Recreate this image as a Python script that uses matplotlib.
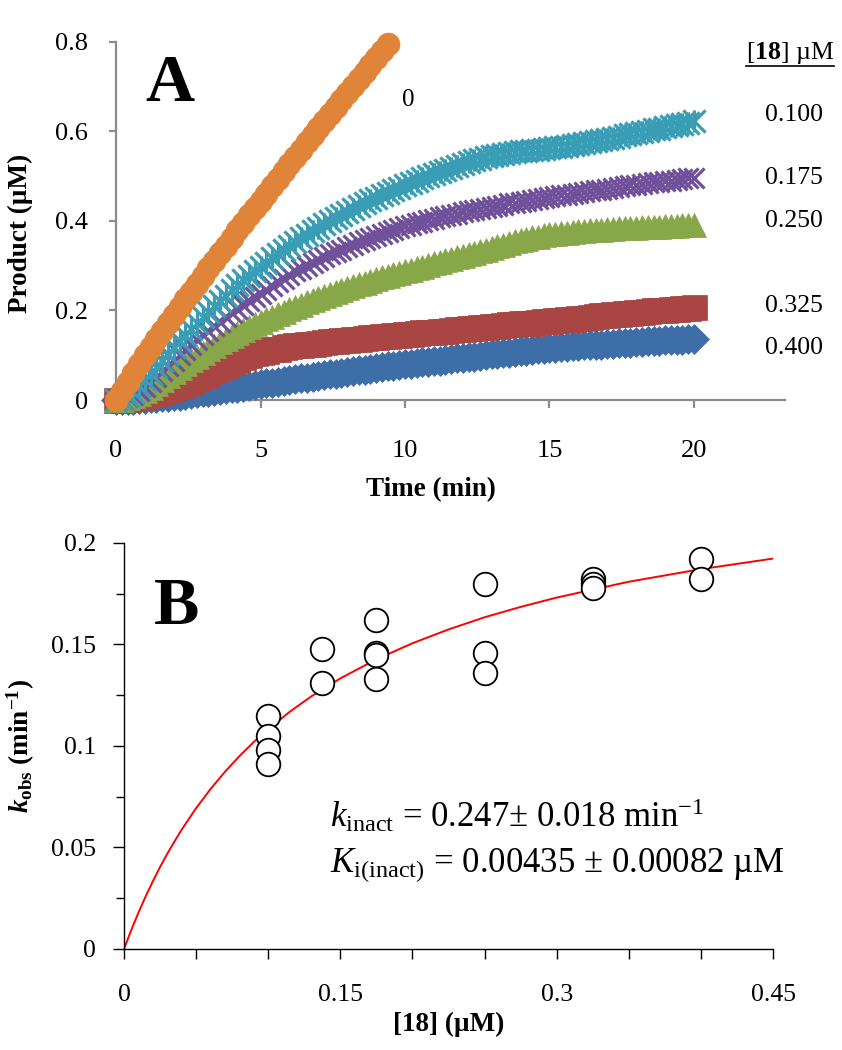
import numpy as np
import matplotlib
matplotlib.use('Agg')
import matplotlib.pyplot as plt
from matplotlib.path import Path
from matplotlib.lines import Line2D

# === Panel A: product vs time, one series per [18] (uM) ===
TIME_STEP = 0.2  # min between readings

p_0 = [0, 0.020, 0.040, 0.060, 0.080, 0.100, 0.118, 0.136, 0.154, 0.172,
       0.190, 0.207, 0.225, 0.242, 0.260, 0.277, 0.294, 0.311, 0.328, 0.345,
       0.362, 0.379, 0.395, 0.412, 0.428, 0.445, 0.461, 0.478, 0.494, 0.511,
       0.527, 0.543, 0.559, 0.575, 0.591, 0.607, 0.623, 0.639, 0.654, 0.670,
       0.686, 0.702, 0.717, 0.733, 0.748, 0.764, 0.779, 0.795]

p_100 = [0, 0.003, 0.009, 0.018, 0.031, 0.045, 0.059, 0.073, 0.088, 0.103,
         0.118, 0.132, 0.145, 0.159, 0.172, 0.185, 0.197, 0.209, 0.221, 0.233,
         0.245, 0.256, 0.267, 0.277, 0.287, 0.297, 0.307, 0.316, 0.326, 0.335,
         0.345, 0.353, 0.361, 0.369, 0.377, 0.385, 0.392, 0.399, 0.406, 0.413,
         0.420, 0.426, 0.433, 0.439, 0.446, 0.452, 0.458, 0.463, 0.469, 0.474,
         0.480, 0.485, 0.490, 0.495, 0.500, 0.505, 0.510, 0.514, 0.519, 0.523,
         0.528, 0.531, 0.535, 0.538, 0.542, 0.545, 0.547, 0.549, 0.551, 0.553,
         0.555, 0.556, 0.558, 0.559, 0.561, 0.562, 0.564, 0.566, 0.568, 0.570,
         0.572, 0.574, 0.576, 0.579, 0.581, 0.583, 0.586, 0.588, 0.591, 0.593,
         0.596, 0.599, 0.601, 0.604, 0.606, 0.609, 0.612, 0.614, 0.617, 0.619,
         0.622]

p_175 = [0, 0.002, 0.006, 0.012, 0.020, 0.030, 0.041, 0.052, 0.064, 0.076,
         0.088, 0.100, 0.112, 0.123, 0.134, 0.145, 0.155, 0.165, 0.175, 0.185,
         0.195, 0.204, 0.213, 0.221, 0.229, 0.237, 0.246, 0.254, 0.263, 0.271,
         0.280, 0.287, 0.293, 0.300, 0.306, 0.313, 0.319, 0.325, 0.330, 0.336,
         0.342, 0.347, 0.352, 0.357, 0.362, 0.367, 0.371, 0.375, 0.380, 0.384,
         0.388, 0.391, 0.395, 0.398, 0.402, 0.405, 0.408, 0.411, 0.413, 0.416,
         0.419, 0.422, 0.424, 0.427, 0.429, 0.432, 0.434, 0.436, 0.439, 0.441,
         0.443, 0.445, 0.447, 0.449, 0.451, 0.453, 0.455, 0.457, 0.458, 0.460,
         0.462, 0.464, 0.466, 0.468, 0.470, 0.472, 0.474, 0.476, 0.477, 0.479,
         0.481, 0.483, 0.484, 0.486, 0.487, 0.489, 0.490, 0.492, 0.493, 0.495,
         0.496]

p_250 = [0, 0.001, 0.004, 0.008, 0.014, 0.020, 0.028, 0.036, 0.044, 0.053,
         0.062, 0.071, 0.080, 0.089, 0.097, 0.105, 0.113, 0.121, 0.129, 0.136,
         0.143, 0.150, 0.157, 0.163, 0.169, 0.175, 0.181, 0.186, 0.192, 0.197,
         0.203, 0.208, 0.213, 0.218, 0.223, 0.228, 0.232, 0.237, 0.241, 0.246,
         0.250, 0.254, 0.258, 0.262, 0.266, 0.270, 0.274, 0.277, 0.281, 0.284,
         0.288, 0.291, 0.295, 0.298, 0.302, 0.305, 0.308, 0.312, 0.315, 0.319,
         0.322, 0.326, 0.329, 0.333, 0.336, 0.340, 0.343, 0.347, 0.350, 0.354,
         0.357, 0.360, 0.363, 0.365, 0.368, 0.370, 0.371, 0.373, 0.374, 0.376,
         0.377, 0.378, 0.379, 0.379, 0.380, 0.381, 0.382, 0.383, 0.383, 0.384,
         0.385, 0.386, 0.386, 0.387, 0.387, 0.388, 0.388, 0.389, 0.390, 0.390,
         0.391]

p_325 = [0, 0.001, 0.002, 0.004, 0.007, 0.010, 0.013, 0.016, 0.020, 0.023,
         0.027, 0.032, 0.037, 0.043, 0.049, 0.055, 0.061, 0.067, 0.073, 0.079,
         0.085, 0.090, 0.095, 0.100, 0.104, 0.108, 0.110, 0.113, 0.115, 0.118,
         0.120, 0.122, 0.123, 0.125, 0.126, 0.128, 0.129, 0.131, 0.132, 0.134,
         0.135, 0.136, 0.137, 0.139, 0.140, 0.141, 0.142, 0.143, 0.145, 0.146,
         0.147, 0.148, 0.149, 0.151, 0.152, 0.153, 0.154, 0.155, 0.157, 0.158,
         0.159, 0.160, 0.161, 0.163, 0.164, 0.165, 0.166, 0.167, 0.169, 0.170,
         0.171, 0.172, 0.173, 0.175, 0.176, 0.177, 0.178, 0.179, 0.181, 0.182,
         0.183, 0.184, 0.186, 0.187, 0.189, 0.190, 0.191, 0.192, 0.194, 0.195,
         0.196, 0.197, 0.198, 0.200, 0.201, 0.202, 0.203, 0.204, 0.205, 0.206,
         0.207]

p_400 = [0, 0.000, 0.001, 0.001, 0.002, 0.003, 0.004, 0.005, 0.006, 0.007,
         0.008, 0.010, 0.012, 0.013, 0.015, 0.017, 0.019, 0.021, 0.022, 0.024,
         0.026, 0.028, 0.030, 0.031, 0.033, 0.035, 0.037, 0.039, 0.041, 0.043,
         0.045, 0.047, 0.049, 0.050, 0.052, 0.054, 0.056, 0.058, 0.059, 0.061,
         0.063, 0.065, 0.067, 0.068, 0.070, 0.072, 0.074, 0.075, 0.077, 0.078,
         0.080, 0.081, 0.083, 0.084, 0.086, 0.087, 0.088, 0.090, 0.091, 0.093,
         0.094, 0.096, 0.097, 0.099, 0.100, 0.102, 0.103, 0.105, 0.106, 0.108,
         0.109, 0.110, 0.112, 0.113, 0.115, 0.116, 0.117, 0.118, 0.119, 0.120,
         0.121, 0.122, 0.123, 0.123, 0.124, 0.125, 0.126, 0.127, 0.127, 0.128,
         0.129, 0.130, 0.131, 0.131, 0.132, 0.133, 0.134, 0.135, 0.135, 0.136,
         0.137]

labels_A = ['0.400', '0.325', '0.250', '0.175', '0.100']
label_y_A = [0.117, 0.209, 0.400, 0.495, 0.637]
xticks_A = [0, 5, 10, 15, 20]
yticks_A = [0, 0.2, 0.4, 0.6, 0.8]
yticklabels_A = ['0', '0.2', '0.4', '0.6', '0.8']

# === Panel B: kobs vs [18] ===
conc = [0.1, 0.1, 0.1, 0.1, 0.1375, 0.1375, 0.175, 0.175, 0.175, 0.175,
        0.25, 0.25, 0.25, 0.325, 0.325, 0.325, 0.4, 0.4]
kobs = [0.115, 0.105, 0.098, 0.091, 0.148, 0.131, 0.162, 0.146, 0.145, 0.133,
        0.180, 0.146, 0.136, 0.182, 0.180, 0.178, 0.192, 0.182]

fit_x = [0, 0.005, 0.01, 0.015, 0.02, 0.025, 0.03, 0.035, 0.04, 0.05, 0.06,
         0.07, 0.08, 0.09, 0.10, 0.115, 0.13, 0.15, 0.175, 0.2, 0.225, 0.25,
         0.275, 0.3, 0.35, 0.4, 0.45]
fit_y = [0, 0.0093, 0.0179, 0.0259, 0.0334, 0.0404, 0.0469, 0.0530, 0.0588,
         0.0694, 0.0788, 0.0873, 0.0950, 0.1020, 0.1083, 0.1169, 0.1245,
         0.1333, 0.1427, 0.1506, 0.1574, 0.1634, 0.1685, 0.1731, 0.1809,
         0.1871, 0.1923]

xticks_B = [0, 0.15, 0.3, 0.45]
xticklabels_B = ['0', '0.15', '0.3', '0.45']
yticks_B = [0, 0.05, 0.1, 0.15, 0.2]
yticklabels_B = ['0', '0.05', '0.1', '0.15', '0.2']

# === Estilo ===
plt.rcParams['font.family'] = ['Liberation Serif', 'DejaVu Serif']
plt.rcParams['mathtext.fontset'] = 'custom'
plt.rcParams['mathtext.rm'] = 'Liberation Serif'
plt.rcParams['mathtext.it'] = 'Liberation Serif:italic'
plt.rcParams['mathtext.bf'] = 'Liberation Serif:bold'
plt.rcParams['mathtext.bfit'] = 'Liberation Serif:italic:bold'

GRAY = '#8C8C8C'
blue, red, green = '#3E6EA8', '#A94542', '#88A748'
purple, cyan, orange = '#70509A', '#3A9DB6', '#E0843A'

# Excel "star" marker: an x with a vertical bar
star = Path([(-1, -1), (1, 1), (-1, 1), (1, -1), (0, -1), (0, 1)],
            [Path.MOVETO, Path.LINETO, Path.MOVETO, Path.LINETO,
             Path.MOVETO, Path.LINETO])

fig = plt.figure(figsize=(8.42, 10.5), dpi=100)
axA = fig.add_axes([0.1378, 0.619, 0.7945, 0.3413])
axB = fig.add_axes([0.1473, 0.0962, 0.7708, 0.3867])

# --- Panel A ---
series = [(p_400, 'D', blue, 15), (p_325, 's', red, 18),
          (p_250, '^', green, 17), (p_175, 'x', purple, 14),
          (p_100, star, cyan, 16), (p_0, 'o', orange, 16.5)]
for vals, mk, col, ms in series:
    t = np.arange(len(vals)) * TIME_STEP
    if mk in ('x',) or mk is star:
        axA.plot(t, vals, ls='none', marker=mk, ms=ms, mec=col, mfc='none',
                 mew=2.3, clip_on=False, zorder=3)
    else:
        axA.plot(t, vals, ls='none', marker=mk, ms=ms, mec=col, mfc=col,
                 mew=0.5, clip_on=False, zorder=3)

axA.set_xlim(0, 23.15)
axA.set_ylim(0, 0.8)
axA.set_xticks(xticks_A)
axA.set_xticklabels([str(v) for v in xticks_A])
axA.set_yticks(yticks_A)
axA.set_yticklabels(yticklabels_A)
for s in ['top', 'right']:
    axA.spines[s].set_visible(False)
for s in ['left', 'bottom']:
    axA.spines[s].set_color(GRAY)
    axA.spines[s].set_linewidth(1.6)
axA.tick_params(axis='x', direction='out', length=6, width=1.6, color=GRAY,
                labelsize=19, pad=23)
axA.tick_params(axis='y', direction='out', length=5, width=1.6, color=GRAY,
                labelsize=19, pad=15)
axA.set_xlabel('Time (min)', fontsize=19.5, fontweight='bold')
axA.xaxis.set_label_coords(0.47, -0.215)
axA.set_ylabel('Product (µM)', fontsize=19.5, fontweight='bold')
axA.yaxis.set_label_coords(-0.124, 0.466)

axA.text(1.0, 0.705, 'A', fontsize=49, fontweight='bold', va='center')
axA.text(9.9, 0.67, '0', fontsize=18, va='center')
for lab, yy in zip(labels_A, label_y_A):
    axA.text(24.45, yy, lab, fontsize=18.5, ha='right', va='center')
hdr = axA.text(24.85, 0.775, r'[$\mathbf{18}$] µM', fontsize=18.5,
               ha='right', va='center')

# --- Panel B ---
axB.plot(fit_x, fit_y, color='#FF0000', lw=1.4, zorder=2)
axB.plot(conc, kobs, ls='none', marker='o', ms=17, mfc='white', mec='black',
         mew=1.3, zorder=3)
axB.set_xlim(0, 0.45)
axB.set_ylim(0, 0.2)
axB.set_xticks(xticks_B)
axB.set_xticklabels(xticklabels_B)
axB.set_xticks([0.05, 0.1, 0.2, 0.25, 0.35, 0.4], minor=True)
axB.set_yticks(yticks_B)
axB.set_yticklabels(yticklabels_B)
axB.set_yticks([0.025, 0.075, 0.125, 0.175], minor=True)
for s in ['top', 'right']:
    axB.spines[s].set_visible(False)
for s in ['left', 'bottom']:
    axB.spines[s].set_linewidth(1.0)
axB.tick_params(axis='x', which='both', direction='out', length=7, width=1.0,
                labelsize=18.5, pad=18)
axB.tick_params(axis='y', which='major', direction='out', length=8, width=1.0,
                labelsize=18.5, pad=12)
axB.tick_params(axis='y', which='minor', direction='out', length=6, width=1.0)
axB.set_xlabel('[18] (µM)', fontsize=19.5, fontweight='bold')
axB.xaxis.set_label_coords(0.5, -0.155)
axB.set_ylabel(r'$\mathbfit{k}_{\mathbf{obs}}$ (min$^{\mathbf{-1}}$)',
               fontsize=19.5, fontweight='bold')
axB.yaxis.set_label_coords(-0.134, 0.5)

axB.text(0.021, 0.168, 'B', fontsize=49, fontweight='bold', va='center')
axB.text(0.143, 0.060, r'$k_{\mathrm{inact}}$ = 0.247± 0.018 min$^{\mathrm{-1}}$',
         fontsize=25, va='baseline')
axB.text(0.143, 0.038, r'$K_{\mathrm{i(inact)}}$ = 0.00435 ± 0.00082 µM',
         fontsize=25, va='baseline')

# underline for the panel A header
fig.canvas.draw()
bb = hdr.get_window_extent()
inv = fig.transFigure.inverted()
(x0, y0), (x1, _) = inv.transform([[bb.x0, bb.y0], [bb.x1, bb.y0]])
fig.add_artist(Line2D([x0, x1], [y0, y0], color='black', lw=1.2))

fig.savefig('out.png', dpi=100)
